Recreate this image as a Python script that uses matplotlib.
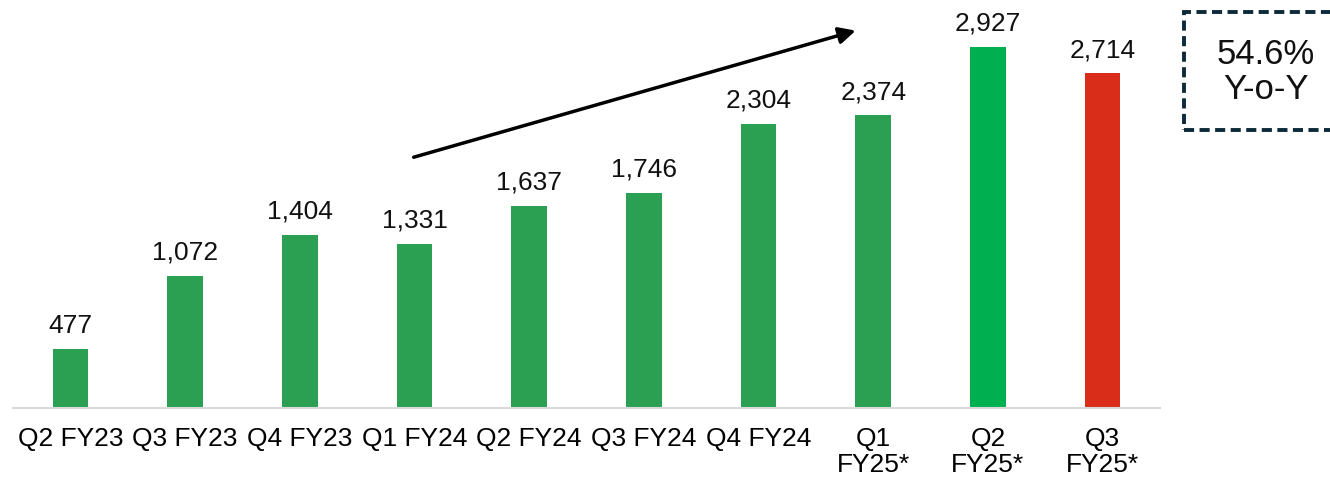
import matplotlib.pyplot as plt
from matplotlib.patches import Rectangle

plt.rcParams['font.family'] = ['Liberation Sans', 'DejaVu Sans']

# data
quarters = ['Q2 FY23', 'Q3 FY23', 'Q4 FY23', 'Q1 FY24', 'Q2 FY24', 'Q3 FY24', 'Q4 FY24',
            'Q1\nFY25*', 'Q2\nFY25*', 'Q3\nFY25*']
values = [477, 1072, 1404, 1331, 1637, 1746, 2304, 2374, 2927, 2714]
bar_colors = ['#2ba052'] * 8 + ['#00b050', '#d92d1a']
yoy_text = '54.6%\nY-o-Y'

fig = plt.figure(figsize=(13.3, 4.8), dpi=100)
ax = fig.add_axes([13 / 1330, 72 / 480, 1147 / 1330, 408 / 480])

x = range(len(values))
ax.bar(x, values, width=0.31, color=bar_colors)
for i, v in enumerate(values):
    ax.text(i, v + 90, f'{v:,}', ha='center', va='bottom', fontsize=19, color='#111111')

ax.set_xlim(-0.5, len(values) - 0.5)
ax.set_ylim(0, 3308)
ax.set_xticks(list(x))
ax.set_xticklabels(quarters, fontsize=19, linespacing=1.1, va='top')
ax.tick_params(axis='x', length=0, pad=14)
ax.set_yticks([])
for s in ['top', 'right', 'left']:
    ax.spines[s].set_visible(False)
ax.spines['bottom'].set_color('#d9d9d9')
ax.spines['bottom'].set_linewidth(1.5)

# trend arrow
ax.annotate('', xy=(6.87, 3066), xytext=(2.97, 2027),
            arrowprops=dict(arrowstyle='-|>', color='black', lw=2.5, mutation_scale=25),
            annotation_clip=False)

# dashed Y-o-Y box
box = Rectangle((1184 / 1330, 350 / 480), 200 / 1330, 118 / 480, transform=fig.transFigure,
                fill=False, edgecolor='#0d2a3a', lw=2.8, linestyle=(0, (2.6, 1.4)))
fig.patches.append(box)
fig.text(1266 / 1330, 1 - 72 / 480, yoy_text, ha='center', va='center', fontsize=25,
         linespacing=1.1, color='#111111')

fig.savefig('out.png', dpi=100)
